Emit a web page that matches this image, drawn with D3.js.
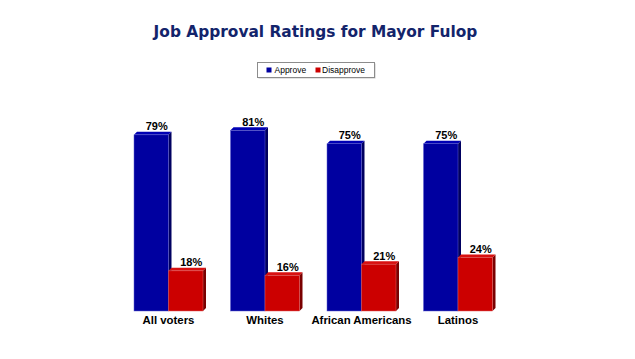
<!DOCTYPE html>
<html>
<head>
<meta charset="utf-8">
<script src="https://cdn.jsdelivr.net/npm/d3@7"></script>
<style>
  html, body { margin: 0; padding: 0; background: #fff; }
  svg { display: block; }
</style>
</head>
<body>
<svg id="chart" width="635" height="359"></svg>
<script>
const categories = ["All voters", "Whites", "African Americans", "Latinos"];
const seriesNames = ["Approve", "Disapprove"];
const approve = [79, 81, 75, 75];
const disapprove = [18, 16, 21, 24];
const valueSuffix = "%";

const colors = {
  Approve: { front: "#0000A0", side: "#000060", top: "#0000B4" },
  Disapprove: { front: "#CC0000", side: "#7A0000", top: "#D81010" }
};

const seriesValues = { Approve: approve, Disapprove: disapprove };
const svg = d3.select("#chart");
const W = 635, H = 359;
const depth = 3;

const x0 = d3.scaleBand().domain(categories).range([134, 492.5]).paddingInner(0.285).paddingOuter(0);
const x1 = d3.scaleBand().domain(seriesNames).range([0, x0.bandwidth()]).padding(0);
const y = d3.scaleLinear().domain([0, 100]).range([311, 88]);

// Title
svg.append("text")
  .attr("x", 315.5).attr("y", 37)
  .attr("text-anchor", "middle")
  .attr("font-family", "DejaVu Sans, Verdana, sans-serif")
  .attr("font-weight", "bold")
  .attr("font-size", "15.4px")
  .attr("fill", "#13246B")
  .text("Job Approval Ratings for Mayor Fulop");

// Legend
const lg = svg.append("g");
lg.append("rect").attr("x", 258.5).attr("y", 63.5).attr("width", 117).attr("height", 15)
  .attr("fill", "#c8c8c8");
lg.append("rect").attr("x", 257.5).attr("y", 62.5).attr("width", 117).attr("height", 15)
  .attr("fill", "#fff").attr("stroke", "#8c8c8c").attr("stroke-width", 1);
const legendPos = [{ sx: 266.5, tx: 274.5 }, { sx: 315.5, tx: 322 }];
seriesNames.forEach((s, i) => {
  lg.append("rect").attr("x", legendPos[i].sx).attr("y", 67.5).attr("width", 5).attr("height", 5)
    .attr("fill", colors[s].front);
  lg.append("text").attr("x", legendPos[i].tx).attr("y", 73.3)
    .attr("font-family", "Liberation Sans, Arial, sans-serif")
    .attr("font-size", "8.5px").attr("fill", "#000")
    .text(s);
});

// Bars
const data = [];
categories.forEach((c, ci) => {
  seriesNames.forEach(s => data.push({ cat: c, series: s, value: seriesValues[s][ci] }));
});

const g = svg.append("g");
const bars = g.selectAll("g.bar").data(data).join("g").attr("class", "bar");

bars.each(function(d) {
  const sel = d3.select(this);
  const bx = x0(d.cat) + x1(d.series);
  const bw = x1.bandwidth();
  const by = y(d.value);
  const base = y(0);
  const c = colors[d.series];
  // side
  sel.append("path")
    .attr("d", `M${bx + bw},${by} L${bx + bw + depth},${by - depth} L${bx + bw + depth},${base - depth} L${bx + bw},${base} Z`)
    .attr("fill", c.side);
  // top
  sel.append("path")
    .attr("d", `M${bx},${by} L${bx + depth},${by - depth} L${bx + bw + depth},${by - depth} L${bx + bw},${by} Z`)
    .attr("fill", c.top);
  // front
  sel.append("rect")
    .attr("x", bx).attr("y", by).attr("width", bw).attr("height", base - by)
    .attr("fill", c.front)
    .attr("stroke", d.series === "Approve" ? "#6060d0" : "#e06060")
    .attr("stroke-width", 0.5);
  // label
  sel.append("text")
    .attr("x", bx + bw / 2 + depth / 2 + 4)
    .attr("y", by - depth - 1.5)
    .attr("text-anchor", "middle")
    .attr("font-family", "Liberation Sans, Arial, sans-serif")
    .attr("font-weight", "bold")
    .attr("font-size", "11px")
    .attr("fill", "#000")
    .text(d.value + valueSuffix);
});

// Category axis labels
const xAxis = d3.axisBottom(x0).tickSize(0).tickPadding(0);
const ax = svg.append("g").attr("transform", `translate(0, 314)`).call(xAxis);
ax.select(".domain").remove();
ax.selectAll("text")
  .attr("dy", 0).attr("y", 9.5)
  .attr("font-family", "Liberation Sans, Arial, sans-serif")
  .attr("font-weight", "bold")
  .attr("font-size", "11.4px")
  .attr("fill", "#000");
</script>
</body>
</html>
